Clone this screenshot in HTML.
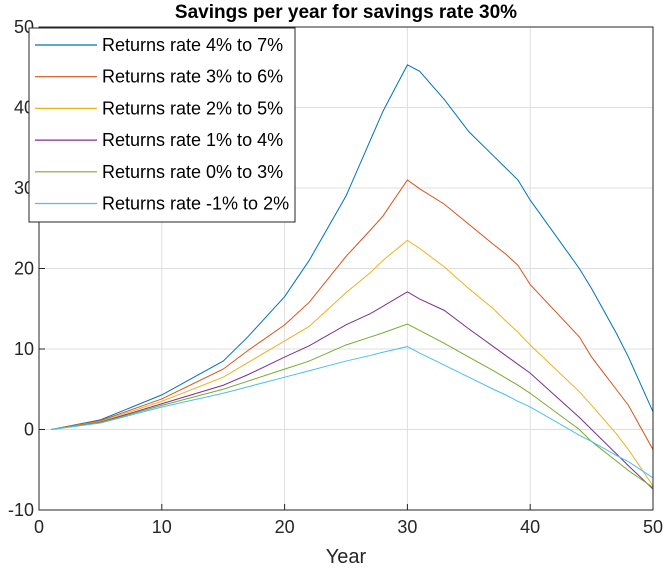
<!DOCTYPE html>
<html><head><meta charset="utf-8"><style>
body{margin:0;background:#fff;font-family:"Liberation Sans",sans-serif}
</style></head><body>
<svg width="666" height="566" id="c" font-family="Liberation Sans, sans-serif"></svg>
<script>
const years=[1,5,10,15,17,20,22,25,27,28,30,31,33,35,37,38,39,40,44,45,47,48,50];
const sBlue=[0,1.2,4.3,8.5,11.5,16.5,21,29,36,39.5,45.3,44.5,41,37,34,32.5,31,28.5,20,17.5,12,9,2.2];
const sOrange=[0,1.1,3.8,7.5,9.8,13,15.8,21.5,24.8,26.5,31,29.9,28,25.5,23,21.8,20.4,18,11.5,9,5,3,-2.5];
const sYellow=[0,1,3.5,6.5,8.3,11,12.8,17,19.5,21,23.5,22.5,20.2,17.5,15,13.5,12.1,10.5,4.7,3,-0.5,-2.5,-7];
const sPurple=[0,0.9,3.2,5.5,6.8,9,10.4,13,14.4,15.3,17.1,16.2,14.8,12.5,10.3,9.2,8.1,7,1.5,0,-3,-4.5,-7.4];
const sGreen=[0,0.85,3,5,6,7.5,8.5,10.5,11.5,12,13.1,12.3,10.7,9,7.3,6.4,5.5,4.5,0,-1.5,-3.9,-5.1,-7.2];
const sCyan=[0,0.8,2.8,4.5,5.3,6.5,7.3,8.5,9.2,9.6,10.3,9.5,8,6.5,5,4.3,3.5,2.8,-0.7,-1.5,-3.2,-4,-6];
const series=[sBlue,sOrange,sYellow,sPurple,sGreen,sCyan];
const labels=["Returns rate 4% to 7%","Returns rate 3% to 6%","Returns rate 2% to 5%","Returns rate 1% to 4%","Returns rate 0% to 3%","Returns rate -1% to 2%"];
const colors=["#0072bd","#d95319","#edb120","#7e2f8e","#77ac30","#4dbeee"];
const xTicks=[0,10,20,30,40,50];
const yTicks=[-10,0,10,20,30,40,50];
const L=39,R=653,T=27,B=510;
const xs=v=>L+(v-0)/50*(R-L), ys=v=>B-(v+10)/60*(B-T);
const svg=document.getElementById('c');const NS='http://www.w3.org/2000/svg';
function mk(t,a,p){const e=document.createElementNS(NS,t);for(const k in a)e.setAttribute(k,a[k]);(p||svg).appendChild(e);return e;}
let e=mk('rect',{x:L,y:T,width:R-L,height:B-T,fill:'#fff'});


xTicks.forEach(t=>{const g=mk('line',{x1:xs(t),x2:xs(t),y1:T,y2:B,stroke:'#dfdfdf'});


mk('line',{x1:xs(t),x2:xs(t),y1:B,y2:B-6,stroke:'#262626'});
const tx=mk('text',{x:xs(t),y:B+23,'text-anchor':'middle','font-size':18,fill:'#262626'});tx.textContent=t;

});
yTicks.forEach(t=>{const g=mk('line',{x1:L,x2:R,y1:ys(t),y2:ys(t),stroke:'#dfdfdf'});


mk('line',{x1:L,x2:L+6,y1:ys(t),y2:ys(t),stroke:'#262626'});
const tx=mk('text',{x:L-5,y:ys(t)+6,'text-anchor':'end','font-size':18,fill:'#262626'});tx.textContent=t;

});
series.forEach((s,i)=>{const p=mk('polyline',{points:years.map((y,j)=>xs(y)+','+ys(s[j])).join(' '),fill:'none',stroke:colors[i],'stroke-width':1});

});
e=mk('rect',{x:L,y:T,width:R-L,height:B-T,fill:'none',stroke:'#262626'});


const lg=mk('g',{});


mk('rect',{x:29,y:28,width:266,height:194,fill:'#fff',stroke:'#262626'},lg);
labels.forEach((l,i)=>{const y=45+i*31.7;mk('line',{x1:35,x2:97,y1:y,y2:y,stroke:colors[i],'stroke-width':1.2},lg);
const t=mk('text',{x:102,y:y+6,'font-size':18,fill:'#000'},lg);t.textContent=l;

});
const ti=mk('text',{x:346,y:18,'text-anchor':'middle','font-size':19,'font-weight':'bold',fill:'#000'});ti.textContent='Savings per year for savings rate 30%';


const xl=mk('text',{x:346,y:563,'text-anchor':'middle','font-size':20,fill:'#262626'});xl.textContent='Year';


</script>
</body></html>
